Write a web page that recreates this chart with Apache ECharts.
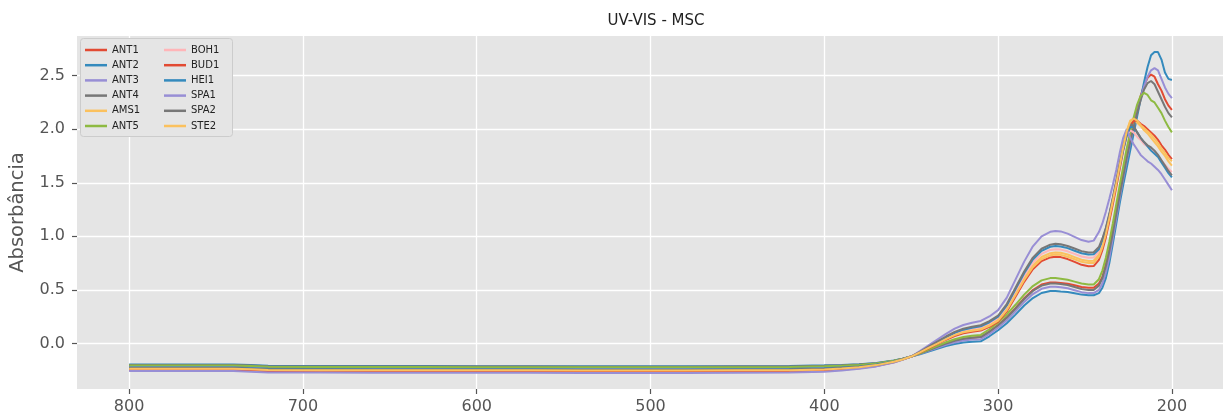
<!DOCTYPE html>
<html>
<head>
<meta charset="utf-8">
<script src="https://cdn.jsdelivr.net/npm/echarts@6/dist/echarts.min.js"></script>
<style>
  html, body { margin: 0; padding: 0; background: #ffffff; }
  #chart { width: 1223px; height: 420px; }
</style>
</head>
<body>
<div id="chart"></div>
<script>
// Wavelength grid (nm), long to short
const wavelengths = [
  800, 770, 740, 730, 720, 690, 660, 630, 600, 570, 540, 510, 480, 450, 420,
  400, 390, 380, 370, 360, 355, 350,
  345, 340, 335, 330, 325, 320, 315, 310,
  305, 300, 295, 290, 285, 280, 275, 270, 267, 264,
  260, 256, 252, 248, 245,
  242, 240, 238, 236, 234, 232, 230, 228, 226, 224, 222, 220, 218, 216, 214, 212, 210, 208, 206, 204, 202, 200
];

// MSC-corrected absorbance per sample
const ANT1 = [
  -0.210,-0.210,-0.210,-0.216,-0.222,-0.224,-0.225,-0.225,-0.226,-0.226,-0.227,-0.227,-0.227,-0.226,-0.224,
  -0.218,-0.212,-0.204,-0.190,-0.164,-0.145,-0.122,
  -0.094,-0.063,-0.032,-0.001,0.025,0.044,0.054,0.060,
  0.111,0.172,0.244,0.330,0.422,0.499,0.550,0.570,0.570,0.565,
  0.558,0.543,0.528,0.520,0.520,
  0.56,0.62,0.74,0.88,1.05,1.23,1.41,1.58,1.75,1.90,2.05,2.19,2.31,2.41,2.48,2.51,2.49,2.42,2.36,2.28,2.22,2.18
];
const ANT2 = [
  -0.196,-0.196,-0.196,-0.202,-0.208,-0.210,-0.211,-0.211,-0.212,-0.212,-0.213,-0.213,-0.213,-0.212,-0.210,
  -0.204,-0.200,-0.194,-0.183,-0.159,-0.143,-0.122,
  -0.100,-0.075,-0.050,-0.025,-0.005,0.010,0.017,0.020,
  0.067,0.123,0.189,0.269,0.354,0.424,0.471,0.490,0.490,0.485,
  0.480,0.468,0.456,0.450,0.450,
  0.47,0.52,0.61,0.75,0.93,1.12,1.31,1.48,1.64,1.80,1.96,2.12,2.28,2.44,2.58,2.69,2.72,2.72,2.65,2.53,2.47,2.46
];
const ANT3 = [
  -0.220,-0.220,-0.220,-0.226,-0.232,-0.234,-0.235,-0.235,-0.236,-0.236,-0.237,-0.237,-0.237,-0.236,-0.234,
  -0.227,-0.221,-0.211,-0.195,-0.167,-0.146,-0.122,
  -0.097,-0.069,-0.041,-0.013,0.010,0.027,0.036,0.040,
  0.089,0.148,0.216,0.300,0.388,0.461,0.510,0.530,0.530,0.525,
  0.515,0.497,0.479,0.470,0.470,
  0.50,0.56,0.66,0.80,0.98,1.17,1.36,1.54,1.71,1.87,2.02,2.16,2.29,2.40,2.49,2.55,2.57,2.55,2.47,2.39,2.33,2.29
];
const ANT4 = [
  -0.200,-0.200,-0.200,-0.206,-0.212,-0.214,-0.215,-0.215,-0.216,-0.216,-0.217,-0.217,-0.217,-0.216,-0.214,
  -0.208,-0.204,-0.197,-0.185,-0.161,-0.143,-0.122,
  -0.094,-0.063,-0.032,-0.001,0.025,0.044,0.054,0.060,
  0.110,0.170,0.240,0.325,0.415,0.490,0.540,0.560,0.560,0.555,
  0.545,0.527,0.509,0.500,0.500,
  0.54,0.61,0.72,0.86,1.03,1.21,1.39,1.56,1.73,1.88,2.02,2.15,2.27,2.37,2.43,2.45,2.42,2.35,2.28,2.21,2.15,2.11
];
const AMS1 = [
  -0.238,-0.238,-0.238,-0.244,-0.250,-0.252,-0.253,-0.253,-0.254,-0.254,-0.255,-0.255,-0.255,-0.254,-0.252,
  -0.244,-0.236,-0.223,-0.204,-0.172,-0.149,-0.122,
  -0.082,-0.039,0.004,0.047,0.085,0.112,0.129,0.140,
  0.176,0.225,0.325,0.467,0.609,0.729,0.807,0.843,0.850,0.846,
  0.830,0.806,0.782,0.770,0.772,
  0.83,0.92,1.04,1.18,1.34,1.50,1.67,1.84,1.98,2.08,2.10,2.06,2.03,1.99,1.96,1.92,1.88,1.84,1.79,1.75,1.70,1.66
];
const ANT5 = [
  -0.205,-0.205,-0.205,-0.211,-0.217,-0.219,-0.220,-0.220,-0.221,-0.221,-0.222,-0.222,-0.222,-0.221,-0.219,
  -0.213,-0.208,-0.200,-0.187,-0.162,-0.144,-0.122,
  -0.091,-0.057,-0.023,0.011,0.040,0.061,0.073,0.080,
  0.133,0.197,0.271,0.361,0.456,0.536,0.589,0.610,0.610,0.605,
  0.595,0.577,0.559,0.550,0.550,
  0.60,0.68,0.80,0.95,1.12,1.30,1.48,1.65,1.82,1.97,2.11,2.23,2.31,2.34,2.32,2.27,2.25,2.20,2.15,2.08,2.02,1.97
];
const BOH1 = [
  -0.242,-0.242,-0.242,-0.248,-0.254,-0.256,-0.257,-0.257,-0.258,-0.258,-0.259,-0.259,-0.259,-0.258,-0.256,
  -0.248,-0.240,-0.226,-0.206,-0.173,-0.150,-0.122,
  -0.081,-0.036,0.009,0.053,0.093,0.121,0.138,0.150,
  0.187,0.238,0.340,0.486,0.632,0.756,0.836,0.873,0.880,0.876,
  0.860,0.836,0.812,0.800,0.802,
  0.86,0.95,1.06,1.20,1.35,1.51,1.67,1.82,1.94,1.99,1.97,1.93,1.90,1.86,1.84,1.81,1.78,1.75,1.71,1.67,1.63,1.60
];
const BUD1 = [
  -0.250,-0.250,-0.250,-0.256,-0.262,-0.264,-0.265,-0.265,-0.266,-0.266,-0.267,-0.267,-0.267,-0.266,-0.264,
  -0.256,-0.246,-0.232,-0.210,-0.176,-0.151,-0.122,
  -0.085,-0.045,-0.005,0.035,0.070,0.095,0.110,0.120,
  0.155,0.203,0.299,0.437,0.575,0.693,0.769,0.803,0.810,0.806,
  0.788,0.761,0.734,0.720,0.722,
  0.78,0.87,0.99,1.14,1.30,1.46,1.63,1.80,1.94,2.03,2.08,2.08,2.05,2.03,2.00,1.97,1.94,1.90,1.85,1.81,1.76,1.72
];
const HEI1 = [
  -0.225,-0.225,-0.225,-0.231,-0.237,-0.239,-0.240,-0.240,-0.241,-0.241,-0.242,-0.242,-0.242,-0.241,-0.239,
  -0.232,-0.225,-0.214,-0.197,-0.168,-0.147,-0.122,
  -0.079,-0.033,0.013,0.059,0.100,0.129,0.147,0.160,
  0.198,0.250,0.355,0.505,0.655,0.783,0.865,0.903,0.910,0.906,
  0.890,0.866,0.842,0.830,0.832,
  0.88,0.96,1.07,1.20,1.35,1.50,1.66,1.81,1.94,2.02,2.02,1.97,1.92,1.88,1.84,1.80,1.77,1.74,1.69,1.64,1.59,1.55
];
const SPA1 = [
  -0.258,-0.258,-0.258,-0.264,-0.270,-0.272,-0.273,-0.273,-0.274,-0.274,-0.275,-0.275,-0.275,-0.274,-0.272,
  -0.263,-0.253,-0.237,-0.214,-0.178,-0.152,-0.122,
  -0.072,-0.018,0.036,0.089,0.138,0.172,0.194,0.210,
  0.252,0.311,0.428,0.596,0.764,0.907,1.000,1.042,1.050,1.046,
  1.025,0.995,0.965,0.950,0.960,
  1.04,1.12,1.23,1.35,1.48,1.62,1.78,1.92,2.00,1.92,1.86,1.81,1.76,1.73,1.70,1.68,1.65,1.62,1.58,1.53,1.48,1.43
];
const SPA2 = [
  -0.230,-0.230,-0.230,-0.236,-0.242,-0.244,-0.245,-0.245,-0.246,-0.246,-0.247,-0.247,-0.247,-0.246,-0.244,
  -0.237,-0.229,-0.218,-0.200,-0.170,-0.148,-0.122,
  -0.078,-0.030,0.018,0.065,0.108,0.138,0.157,0.170,
  0.208,0.261,0.368,0.520,0.672,0.801,0.884,0.922,0.930,0.926,
  0.910,0.886,0.862,0.850,0.852,
  0.90,0.98,1.08,1.21,1.36,1.52,1.68,1.84,1.97,2.05,2.03,1.97,1.92,1.88,1.85,1.83,1.80,1.76,1.71,1.66,1.61,1.57
];
const STE2 = [
  -0.235,-0.235,-0.235,-0.241,-0.247,-0.249,-0.250,-0.250,-0.251,-0.251,-0.252,-0.252,-0.252,-0.251,-0.249,
  -0.242,-0.234,-0.221,-0.202,-0.171,-0.149,-0.122,
  -0.084,-0.042,-0.001,0.041,0.078,0.104,0.119,0.130,
  0.165,0.214,0.312,0.452,0.592,0.711,0.788,0.823,0.830,0.827,
  0.810,0.786,0.762,0.750,0.752,
  0.81,0.90,1.02,1.17,1.33,1.49,1.66,1.83,1.98,2.07,2.10,2.08,2.04,2.01,1.98,1.95,1.91,1.87,1.82,1.78,1.73,1.70
];

const sampleNames = ['ANT1', 'ANT2', 'ANT3', 'ANT4', 'AMS1', 'ANT5', 'BOH1', 'BUD1', 'HEI1', 'SPA1', 'SPA2', 'STE2'];
const sampleValues = [ANT1, ANT2, ANT3, ANT4, AMS1, ANT5, BOH1, BUD1, HEI1, SPA1, SPA2, STE2];
const xTicks = [200, 300, 400, 500, 600, 700, 800];
const yTicks = [0.0, 0.5, 1.0, 1.5, 2.0, 2.5];

// ggplot-style colour cycle
const palette = ['#E24A33', '#348ABD', '#988ED5', '#777777', '#FBC15E', '#8EBA42', '#FFB5B8'];

const FONT = 'DejaVu Sans';
const chart = echarts.init(document.getElementById('chart'), null, { renderer: 'canvas' });

const series = sampleNames.map((name, i) => ({
  name: name,
  type: 'line',
  symbol: 'none',
  smooth: false,
  silent: true,
  animation: false,
  lineStyle: { width: 2, color: palette[i % palette.length] },
  itemStyle: { color: palette[i % palette.length] },
  data: wavelengths.map((w, k) => [w, sampleValues[i][k]])
}));

// two-column legend: plain line handles
const legendCommon = {
  orient: 'vertical',
  top: 45,
  padding: 0,
  icon: 'rect',
  itemWidth: 22,
  itemHeight: 2.5,
  itemGap: 5.2,
  textStyle: { fontFamily: FONT, fontSize: 10, color: '#222222', lineHeight: 10 },
  selectedMode: false
};

chart.setOption({
  animation: false,
  backgroundColor: '#ffffff',
  title: {
    text: 'UV-VIS - MSC',
    left: 651,
    top: 9,
    textAlign: 'center',
    textStyle: { fontFamily: FONT, fontSize: 15, fontWeight: 'normal', color: '#222222' }
  },
  graphic: [{
    type: 'rect',
    left: 80,
    top: 38,
    shape: { width: 152, height: 98, r: 3 },
    style: { fill: '#E5E5E5', stroke: '#CCCCCC', lineWidth: 1 },
    z: 5
  }],
  legend: [
    Object.assign({}, legendCommon, { left: 85, data: sampleNames.slice(0, 6), z: 10 }),
    Object.assign({}, legendCommon, { left: 164, data: sampleNames.slice(6), z: 10 })
  ],
  grid: {
    left: 77,
    top: 36,
    right: 0,
    height: 353,
    show: true,
    backgroundColor: '#E5E5E5',
    borderWidth: 0
  },
  xAxis: {
    type: 'value',
    inverse: true,
    min: 170.6,
    max: 830,
    axisLine: { show: false, onZero: false },
    axisTick: { show: true, length: 5, lineStyle: { color: '#555555', width: 1.2 }, customValues: xTicks },
    axisLabel: {
      customValues: xTicks,
      margin: 10,
      fontFamily: FONT,
      fontSize: 16,
      color: '#555555',
      formatter: v => String(Math.round(v))
    },
    splitLine: { show: true, lineStyle: { color: '#ffffff', width: 1.3 } }
  },
  yAxis: {
    type: 'value',
    min: -0.425,
    max: 2.87,
    name: 'Absorbância',
    nameLocation: 'middle',
    nameGap: 49,
    nameRotate: 90,
    nameTextStyle: { fontFamily: FONT, fontSize: 19.5, color: '#555555' },
    axisLine: { show: false, onZero: false },
    axisTick: { show: true, length: 5, lineStyle: { color: '#555555', width: 1.2 }, customValues: yTicks },
    axisLabel: {
      customValues: yTicks,
      margin: 12,
      fontFamily: FONT,
      fontSize: 16,
      color: '#555555',
      formatter: v => v.toFixed(1)
    },
    splitLine: { show: true, lineStyle: { color: '#ffffff', width: 1.3 } }
  },
  series: series
});
</script>
</body>
</html>
